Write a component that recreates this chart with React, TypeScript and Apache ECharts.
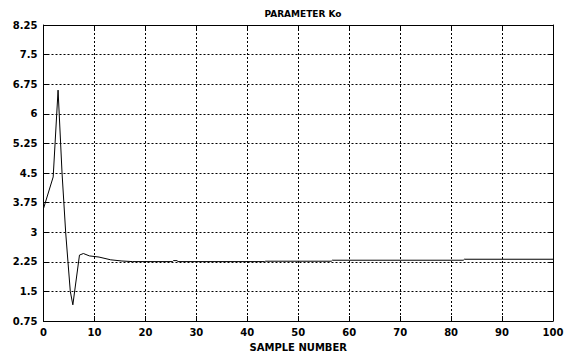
import React, { useEffect, useRef } from "react";
import * as echarts from "echarts";

const sampleX: number[] = [0, 1.9, 2.86, 3.64, 4.35, 4.8, 5.26, 5.76, 7.06, 7.83, 9.0, 10.9, 13.2, 15.4, 17.5, 25.3, 25.5, 26.2, 26.4, 43.4, 43.6, 56.5, 56.7, 82.4, 82.6, 100];
const paramKo: number[] = [3.6, 4.4, 6.6, 4.5, 3.0, 2.25, 1.5, 1.16, 2.42, 2.46, 2.4, 2.37, 2.3, 2.27, 2.255, 2.255, 2.28, 2.28, 2.255, 2.255, 2.265, 2.265, 2.29, 2.29, 2.315, 2.315];

const titleText = "PARAMETER Ko";
const xName = "SAMPLE NUMBER";

const FONT = "DejaVu Sans";

export default function App() {
  const ref = useRef<HTMLDivElement>(null);
  useEffect(() => {
    if (!ref.current) return;
    const chart = echarts.init(ref.current, undefined, { renderer: "svg" });
    const data = sampleX.map((x, i) => [x, paramKo[i]]);
    const labelStyle = { color: "#000", fontFamily: FONT, fontWeight: "bold" as const, fontSize: 10 };
    const split = { show: true, lineStyle: { color: "#000", width: 1, type: [2, 2] as any } };
    const fmtY = (v: number) => String(parseFloat(v.toFixed(2)));
    chart.setOption({
      animation: false,
      backgroundColor: "#fff",
      title: {
        text: titleText,
        left: 298,
        textAlign: "center",
        top: 4,
        textStyle: { color: "#000", fontFamily: FONT, fontWeight: "bold", fontSize: 9 },
      },
      grid: { left: 43.5, right: 18, top: 25, bottom: 38 },
      xAxis: [
        {
          type: "value",
          min: 0,
          max: 100,
          interval: 10,
          position: "bottom",
          name: xName,
          nameLocation: "middle",
          nameGap: 21,
          nameTextStyle: labelStyle,
          axisLine: { show: true, lineStyle: { color: "#000", width: 1 } },
          axisTick: { show: true, inside: true, length: 5, lineStyle: { color: "#000" } },
          axisLabel: { ...labelStyle, margin: 6 },
          splitLine: split,
        },
        {
          type: "value",
          min: 0,
          max: 100,
          interval: 10,
          position: "top",
          axisLine: { show: true, onZero: false, lineStyle: { color: "#000", width: 1 } },
          axisTick: { show: true, inside: true, length: 5, lineStyle: { color: "#000" } },
          axisLabel: { show: false },
          splitLine: { show: false },
        },
      ],
      yAxis: [
        {
          type: "value",
          min: 0.75,
          max: 8.25,
          interval: 0.75,
          position: "left",
          axisLine: { show: true, onZero: false, lineStyle: { color: "#000", width: 1 } },
          axisTick: { show: true, inside: true, length: 5, lineStyle: { color: "#000" } },
          axisLabel: { ...labelStyle, margin: 6, formatter: fmtY },
          splitLine: split,
        },
        {
          type: "value",
          min: 0.75,
          max: 8.25,
          interval: 0.75,
          position: "right",
          axisLine: { show: true, onZero: false, lineStyle: { color: "#000", width: 1 } },
          axisTick: { show: true, inside: true, length: 5, lineStyle: { color: "#000" } },
          axisLabel: { show: false },
          splitLine: { show: false },
        },
      ],
      series: [
        {
          type: "line",
          data,
          xAxisIndex: 0,
          yAxisIndex: 0,
          showSymbol: false,
          symbol: "none",
          lineStyle: { color: "#000", width: 1 },
          clip: true,
        },
      ],
    });
    return () => chart.dispose();
  }, []);
  return <div ref={ref} style={{ position: "fixed", left: 0, top: 0, width: 571, height: 359 }} />;
}
